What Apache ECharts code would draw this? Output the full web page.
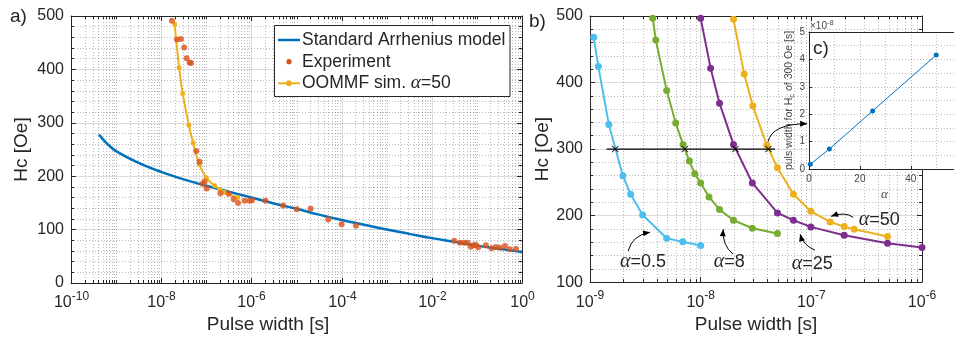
<!DOCTYPE html>
<html><head><meta charset="utf-8">
<script src="https://cdn.jsdelivr.net/npm/echarts@6/dist/echarts.min.js"></script>
<style>html,body{margin:0;padding:0;background:#fff}#c{width:954px;height:339px}</style>
</head><body><div id="c"></div>
<script>
// ---------------- data ----------------
// panel a) Standard Arrhenius model
const arrT  = [4.17e-10, 5e-10, 6.31e-10, 1e-9, 3.16e-9, 1e-8, 3.16e-8, 1e-7, 3.16e-7, 1e-6, 3.16e-6, 1e-5, 3.16e-5, 1e-4, 3.16e-4, 1e-3, 3.16e-3, 1e-2, 3.16e-2, 0.1, 0.316, 1];
const arrHc = [278, 270, 261, 247, 225, 208, 194, 182, 171, 160, 149, 139, 128, 118, 109, 100, 92, 84, 77, 70, 64, 58];
// panel a) Experiment
const expT  = [1.73e-8,2.23e-8,2.74e-8,3.24e-8,3.65e-8,4.26e-8,4.57e-8,6.0e-8,7.1e-8,8.28e-8,9.2e-8,1.02e-7,2.05e-7,3.13e-7,4.05e-7,5.06e-7,7.1e-7,9.2e-7,1.03e-6,2.05e-6,5.06e-6,1.02e-5,2.05e-5,5.06e-5,1e-4,2.08e-4,0.0313,0.0419,0.0523,0.062,0.0736,0.0844,0.095,0.107,0.158,0.212,0.264,0.324,0.419,0.532,0.736];
const expHc = [491,456,457,441,421,413,412,247,227,186,190,177,168,167,157,150,154,154,155,154,145,138,139,119,110,107,79,75.5,75.5,75.5,68,70.6,71.2,66.8,70.6,65,67.4,66.1,69.3,63.1,63.7];
// panel a) OOMMF sim. alpha=50
const simT  = [1.98e-8,2.5e-8,3.0e-8,4.1e-8,5.1e-8,7.0e-8,1.0e-7,1.55e-7,2.0e-7,2.5e-7,5.0e-7];
const simHc = [485,403,355,296,262,222,197,182,175,170,160];
// panel a) labelled x ticks
const ticksA = [1e-10, 1e-8, 1e-6, 1e-4, 1e-2, 1];
// panel b) curves for several alpha
const a05T  = [1.08e-9,1.19e-9,1.48e-9,1.98e-9,2.33e-9,2.99e-9,4.93e-9,6.89e-9,1e-8];
const a05Hc = [468,424,337,260,232,201,166,160.5,155];
const a8T   = [3.69e-9,3.93e-9,4.93e-9,5.95e-9,6.93e-9,7.91e-9,8.85e-9,1e-8,1.19e-8,1.48e-8,1.98e-8,2.93e-8,4.94e-8];
const a8Hc  = [496.5,464,388,339,307,282,263,249,228,209,193,181,173];
const a25T  = [1e-8,1.23e-8,1.48e-8,1.98e-8,2.93e-8,4.94e-8,6.89e-8,9.9e-8,1.98e-7,4.88e-7,1e-6];
const a25Hc = [496.5,421.6,369,307,249,204,193,183,170.4,158.4,152];
const a50T  = [1.98e-8,2.47e-8,2.96e-8,3.96e-8,4.94e-8,6.89e-8,9.9e-8,1.48e-7,1.98e-7,2.44e-7,4.88e-7];
const a50Hc = [495,413,365,305.7,272,232,206.4,190.4,183.4,179.4,168.4];
// panel b) Hc = 300 Oe reference line and crossings
const refT   = [1.41e-9, 4.7e-8];
const refHc  = [300, 300];
const crossT = [1.69e-9, 7.2e-9, 2.06e-8, 4.1e-8];
const crossHc= [300, 300, 300, 300];
// panel c) pulse width for Hc of 300 Oe vs alpha
const insetAlpha = [0.5, 8, 25, 50];
const insetT     = [0.17e-8, 0.73e-8, 2.12e-8, 4.16e-8];
// annotations (data coordinates of panel b)
const annotLabels = ['0.5', '8', '25', '50'];
const annotX      = [3.01e-9, 1.81e-8, 1.02e-7, 4.1e-7];
const annotY      = [130, 130, 127, 194];
const arrowsB = [
  {from:[2.21e-9,146.4], ctrl:[2.40e-9,170.4], to:[3.49e-9,175]},
  {from:[1.96e-8,142],   ctrl:[1.56e-8,155.4], to:[1.60e-8,179.4]},
  {from:[1.08e-7,148],   ctrl:[8.43e-8,155.4], to:[7.93e-8,172]},
  {from:[2.39e-7,197.4], ctrl:[2.02e-7,206.4], to:[1.51e-7,198.9]},
  {from:[4.06e-8,311],   ctrl:[4.43e-8,338],   to:[9.16e-8,338]}
];

// ---------------- styling ----------------
const FONT = '"Liberation Sans", Arial, Helvetica, sans-serif';
const SERIF = '"Liberation Serif", "DejaVu Serif", serif';
const AX = '#262626';
const GRIDC = 'rgba(38,38,38,0.16)';
const MINORC = 'rgba(38,38,38,0.32)';
const INK = '#4a4a4a';
const C_BLUE = '#0072BD', C_RED = '#D95319', C_YEL = '#EDB120', C_PUR = '#7E2F8E', C_GRN = '#77AC30', C_CYA = '#4DBEEE';

const zip = (xs, ys) => xs.map((x, i) => [x, ys[i]]);
function minorLog(nFrom, nTo, majorEvery) {
  const out = [];
  for (let n = nFrom; n < nTo; n++) for (let k = 1; k <= 9; k++) {
    if (k === 1 && (n - nFrom) % majorEvery === 0) continue;
    out.push(k * Math.pow(10, n));
  }
  return out;
}
const minorA = minorLog(-10, 0, 2);
const minorB = minorLog(-9, -6, 1);

const expRich = {
  b: {fontSize: 16, fontFamily: FONT, color: AX, fill: AX, lineHeight: 20, verticalAlign: 'bottom'},
  e: {fontSize: 12, fontFamily: FONT, color: AX, fill: AX, lineHeight: 12, verticalAlign: 'top'}
};
const expFmt = v => '{b|10}{e|' + Math.round(Math.log10(v)) + '}';

function logX(grid, min, max, split, top, name, namePad, nativeTicks) {
  return {
    type: 'log', logBase: 10, gridIndex: grid, min: min, max: max, splitNumber: split,
    position: top ? 'top' : 'bottom',
    axisLine: {show: true, onZero: false, lineStyle: {color: AX, width: 1}},
    axisTick: {show: nativeTicks, inside: true, length: 5, lineStyle: {color: AX}},
    axisLabel: (top || !nativeTicks) ? {show: false} : {formatter: expFmt, margin: 8, rich: expRich},
    splitLine: {show: !top && nativeTicks, lineStyle: {color: GRIDC, width: 1}},
    name: top ? '' : name, nameLocation: 'middle', nameGap: 32,
    nameTextStyle: {fontSize: 19, fontFamily: FONT, color: AX, padding: namePad || 0}
  };
}
function valY(grid, min, max, right, nameGap) {
  return {
    type: 'value', gridIndex: grid, min: min, max: max, interval: 100,
    position: right ? 'right' : 'left',
    axisLine: {show: true, onZero: false, lineStyle: {color: AX, width: 1}},
    axisTick: {show: true, inside: true, length: 5, lineStyle: {color: AX}},
    minorTick: {show: true, splitNumber: 5, length: 3, lineStyle: {color: AX}},
    axisLabel: right ? {show: false} : {fontSize: 16, fontFamily: FONT, color: AX, margin: 7},
    splitLine: {show: !right, lineStyle: {color: GRIDC, width: 1}},
    minorSplitLine: {show: !right, lineStyle: {color: MINORC, width: 1, type: [1, 2]}},
    name: right ? '' : 'Hc [Oe]', nameLocation: 'middle', nameGap: nameGap,
    nameTextStyle: {fontSize: 19, fontFamily: FONT, color: AX}
  };
}
// minor log grid lines + minor ticks (top & bottom)
function minorRender(params, api) {
  const cs = params.coordSys;
  const x = Math.round(api.coord([api.value(0), api.value(1)])[0]) + 0.5;
  const y0 = cs.y, y1 = cs.y + cs.height;
  return {type: 'group', children: [
    {type: 'line', shape: {x1: x, y1: y0, x2: x, y2: y1}, style: {stroke: MINORC, lineWidth: 1, lineDash: [1, 2]}},
    {type: 'line', shape: {x1: x, y1: y1, x2: x, y2: y1 - 3}, style: {stroke: AX, lineWidth: 1}},
    {type: 'line', shape: {x1: x, y1: y0, x2: x, y2: y0 + 3}, style: {stroke: AX, lineWidth: 1}}
  ]};
}
// major log ticks with labels every two decades (panel a)
function majorRender(params, api) {
  const cs = params.coordSys;
  const v = api.value(0);
  const x = Math.round(api.coord([v, api.value(1)])[0]) + 0.5;
  const y0 = cs.y, y1 = cs.y + cs.height;
  return {type: 'group', children: [
    {type: 'line', shape: {x1: x, y1: y0, x2: x, y2: y1}, style: {stroke: GRIDC, lineWidth: 1}},
    {type: 'line', shape: {x1: x, y1: y1, x2: x, y2: y1 - 5}, style: {stroke: AX, lineWidth: 1}},
    {type: 'line', shape: {x1: x, y1: y0, x2: x, y2: y0 + 5}, style: {stroke: AX, lineWidth: 1}},
    {type: 'text', x: x, y: y1 + 8, style: {text: expFmt(v), rich: expRich, align: 'center', verticalAlign: 'top', fill: AX}}
  ]};
}
function curve(name, xs, ys, color) {
  return {name: name, type: 'line', xAxisIndex: 2, yAxisIndex: 2, data: zip(xs, ys),
    symbol: 'circle', symbolSize: 7, showSymbol: true, lineStyle: {color: color, width: 2},
    itemStyle: {color: color}, z: 3, silent: true};
}
const crossPath = 'path://M0,1 L1,0 L5,4 L9,0 L10,1 L6,5 L10,9 L9,10 L5,6 L1,10 L0,9 L4,5Z';

const insetMax = 57;
const option = {
  animation: false,
  backgroundColor: '#fff',
  grid: [
    {left: 71, top: 16, width: 451, height: 267},
    {left: 590, top: 16, width: 332, height: 267},
    {left: 809, top: 32, width: 145, height: 137, show: true, backgroundColor: '#fff', borderWidth: 0, zlevel: 1}
  ],
  xAxis: [
    logX(0, 1e-10, 1, 5, false, 'Pulse width [s]', [0, 57, 0, 0], false),
    logX(0, 1e-10, 1, 5, true, '', 0, false),
    logX(1, 1e-9, 1e-6, 3, false, 'Pulse width [s]', 0, true),
    logX(1, 1e-9, 1e-6, 3, true, '', 0, true),
    {type: 'value', gridIndex: 2, min: 0, max: insetMax, interval: 20, zlevel: 1,
     axisLine: {show: true, onZero: false, lineStyle: {color: AX}},
     axisTick: {show: true, inside: true, length: 3, lineStyle: {color: AX}},
     minorTick: {show: false, splitNumber: 2},
     axisLabel: {fontSize: 10, fontFamily: FONT, color: INK, margin: 5, showMaxLabel: false,
                 formatter: v => (Math.abs(v % 20) < 1e-9 ? String(v) : '')},
     splitLine: {show: true, lineStyle: {color: MINORC, type: [1, 2]}},
     minorSplitLine: {show: true, lineStyle: {color: MINORC, type: [1, 2]}},
     name: 'α', nameLocation: 'middle', nameGap: 19,
     nameTextStyle: {fontSize: 13, fontFamily: SERIF, fontStyle: 'italic', color: INK, padding: [0, 0, 0, 6]}},
    {type: 'value', gridIndex: 2, min: 0, max: insetMax, position: 'top', zlevel: 1,
     axisLine: {show: true, onZero: false, lineStyle: {color: AX}},
     axisTick: {show: false}, axisLabel: {show: false}, splitLine: {show: false}}
  ],
  yAxis: [
    valY(0, 0, 500, false, 40),
    valY(0, 0, 500, true),
    valY(1, 100, 500, false, 36),
    valY(1, 100, 500, true),
    {type: 'value', gridIndex: 2, min: 0, max: 5e-8, interval: 1e-8, zlevel: 1,
     axisLine: {show: true, onZero: false, lineStyle: {color: AX}},
     axisTick: {show: true, inside: true, length: 3, lineStyle: {color: AX}},
     minorTick: {show: false, splitNumber: 2},
     axisLabel: {fontSize: 10, fontFamily: FONT, color: INK, margin: 4,
                 formatter: v => String(Math.round(v * 1e8))},
     splitLine: {show: true, lineStyle: {color: MINORC, type: [1, 2]}},
     minorSplitLine: {show: true, lineStyle: {color: MINORC, type: [1, 2]}},
     name: 'puls width for H{s|c} of 300 Oe [s]', nameLocation: 'middle', nameGap: 13,
     nameTextStyle: {fontSize: 10.5, fontFamily: FONT, color: INK, lineHeight: 13,
       rich: {s: {fontSize: 7.5, fontFamily: FONT, color: INK, verticalAlign: 'bottom', lineHeight: 8}}}}
  ],
  series: [
    {type: 'custom', xAxisIndex: 0, yAxisIndex: 0, data: minorA.map(v => [v, 250]), renderItem: minorRender, silent: true, z: 1},
    {type: 'custom', xAxisIndex: 0, yAxisIndex: 0, data: ticksA.map(v => [v, 250]), renderItem: majorRender, silent: true, z: 1},
    {name: 'Standard Arrhenius model', type: 'line', xAxisIndex: 0, yAxisIndex: 0, data: zip(arrT, arrHc),
     smooth: 0.4, symbol: 'none', lineStyle: {color: C_BLUE, width: 2.5}, z: 2, silent: true},
    {name: 'OOMMF sim. α=50', type: 'line', xAxisIndex: 0, yAxisIndex: 0, data: zip(simT, simHc),
     smooth: 0.3, symbol: 'circle', symbolSize: 5, showSymbol: true, lineStyle: {color: C_YEL, width: 2},
     itemStyle: {color: C_YEL}, z: 3, silent: true},
    {name: 'Experiment', type: 'scatter', xAxisIndex: 0, yAxisIndex: 0, data: zip(expT, expHc),
     symbol: 'circle', symbolSize: 6, itemStyle: {color: C_RED}, z: 4, silent: true},
    {type: 'custom', xAxisIndex: 2, yAxisIndex: 2, data: minorB.map(v => [v, 300]), renderItem: minorRender, silent: true, z: 1},
    curve('α=0.5', a05T, a05Hc, C_CYA),
    curve('α=8', a8T, a8Hc, C_GRN),
    curve('α=25', a25T, a25Hc, C_PUR),
    curve('α=50', a50T, a50Hc, C_YEL),
    {type: 'line', xAxisIndex: 2, yAxisIndex: 2, data: zip(refT, refHc), symbol: 'none',
     lineStyle: {color: '#000', width: 1.2}, z: 4, silent: true},
    {type: 'scatter', xAxisIndex: 2, yAxisIndex: 2, data: zip(crossT, crossHc), symbol: crossPath,
     symbolSize: 7, itemStyle: {color: '#000'}, z: 5, silent: true},
    {type: 'line', xAxisIndex: 4, yAxisIndex: 4, data: zip(insetAlpha, insetT), zlevel: 1, z: 5,
     symbol: 'circle', symbolSize: 5, showSymbol: true, lineStyle: {color: C_BLUE, width: 1},
     itemStyle: {color: C_BLUE}, silent: true}
  ]
};

const chart = echarts.init(document.getElementById('c'), null, {renderer: 'canvas', width: 954, height: 339});
chart.setOption(option);

// ---------------- annotations, legend, panel letters ----------------
const g = [];
function txt(x, y, text, opts) {
  g.push(Object.assign({type: 'text', x: x, y: y, z: 100, silent: true,
    style: Object.assign({text: text, fill: AX, fontSize: 19, fontFamily: FONT, align: 'left', verticalAlign: 'middle'}, opts && opts.style)},
    opts && opts.el));
}
const alphaRich = (fs) => ({
  a: {fontFamily: SERIF, fontStyle: 'italic', fontSize: fs + 2, fill: AX, color: AX},
  n: {fontFamily: FONT, fontSize: fs, fill: AX, color: AX}
});
// legend (panel a)
g.push({type: 'rect', z: 99, silent: true, shape: {x: 274.5, y: 25.5, width: 235.5, height: 71},
        style: {fill: '#fff', stroke: AX, lineWidth: 1}});
g.push({type: 'line', z: 100, silent: true, shape: {x1: 278, y1: 40, x2: 300, y2: 40}, style: {stroke: C_BLUE, lineWidth: 2.5}});
txt(302, 40, 'Standard Arrhenius model', {style: {fontSize: 17.5}});
g.push({type: 'circle', z: 100, silent: true, shape: {cx: 289, cy: 61.7, r: 2.6}, style: {fill: C_RED}});
txt(302, 61.7, 'Experiment', {style: {fontSize: 17.5}});
g.push({type: 'line', z: 100, silent: true, shape: {x1: 278, y1: 83.3, x2: 300, y2: 83.3}, style: {stroke: C_YEL, lineWidth: 2}});
g.push({type: 'circle', z: 101, silent: true, shape: {cx: 289, cy: 83.3, r: 3}, style: {fill: C_YEL}});
txt(302, 83.3, '{n|OOMMF sim. }{a|α}{n|=50}', {style: {rich: alphaRich(17.5)}});
// panel letters
txt(10, 17, 'a)');
txt(529, 22, 'b)');
txt(813, 49, 'c)', {el: {zlevel: 1, z: 10}});
txt(810, 25, '{x|×10}{e|-8}', {el: {zlevel: 1, z: 10}, style: {rich: {
  x: {fontSize: 10, fontFamily: FONT, fill: INK, color: INK, lineHeight: 12, verticalAlign: 'bottom'},
  e: {fontSize: 7.5, fontFamily: FONT, fill: INK, color: INK, lineHeight: 8, verticalAlign: 'top'}}}});
// alpha labels in panel b
annotLabels.forEach((lab, i) => {
  const p = chart.convertToPixel({gridIndex: 1}, [annotX[i], annotY[i]]);
  txt(p[0], p[1], '{a|α}{n|=' + lab + '}', {style: {align: 'center', rich: alphaRich(18)}});
});
// curved arrows
arrowsB.forEach(a => {
  const s = chart.convertToPixel({gridIndex: 1}, a.from);
  const c = chart.convertToPixel({gridIndex: 1}, a.ctrl);
  const e = chart.convertToPixel({gridIndex: 1}, a.to);
  g.push({type: 'bezierCurve', z: 100, silent: true,
    shape: {x1: s[0], y1: s[1], x2: e[0], y2: e[1], cpx1: c[0], cpy1: c[1]},
    style: {stroke: '#000', lineWidth: 1, fill: null}});
  let dx = e[0] - c[0], dy = e[1] - c[1];
  const L = Math.hypot(dx, dy) || 1; dx /= L; dy /= L;
  const bx = e[0] - dx * 7, by = e[1] - dy * 7;
  g.push({type: 'polygon', z: 101, silent: true,
    shape: {points: [[e[0], e[1]], [bx - dy * 3, by + dx * 3], [bx + dy * 3, by - dx * 3]]},
    style: {fill: '#000'}});
});
chart.setOption({graphic: g});
</script>
</body></html>
